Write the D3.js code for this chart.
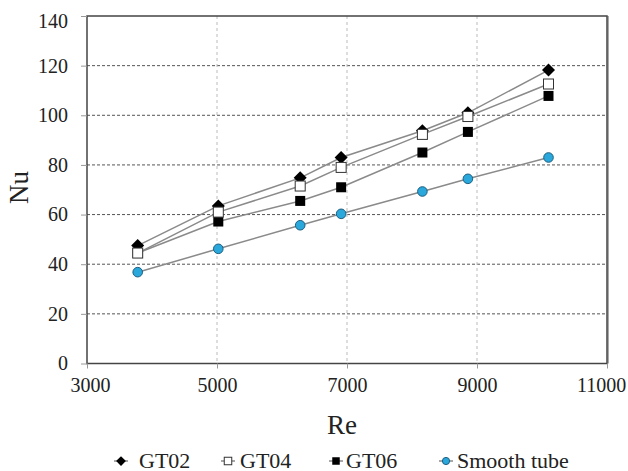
<!DOCTYPE html>
<html><head><meta charset="utf-8">
<script src="https://cdn.jsdelivr.net/npm/d3@7"></script>
<style>body{margin:0;background:#fff}svg{display:block}</style>
</head><body><svg id="c" width="628" height="471"></svg>
<script>
const re = [3780, 5020, 6280, 6910, 8160, 8860, 10100];
const gt02 = [47.5, 63.5, 74.8, 83.0, 93.8, 101.0, 118.2];
const gt04 = [44.5, 61.0, 71.5, 79.0, 92.3, 99.5, 112.6];
const gt06 = [44.5, 57.2, 65.5, 71.0, 85.0, 93.3, 107.8];
const smooth = [36.8, 46.2, 55.7, 60.3, 69.3, 74.4, 83.0];
const xTicks = [3000, 5000, 7000, 9000, 11000];
const yTicks = [0, 20, 40, 60, 80, 100, 120, 140];
const seriesNames = ["GT02", "GT04", "GT06", "Smooth tube"];

const FONT = "Liberation Serif";
const svg = d3.select("#c").attr("font-family", FONT);
const L = 87, R = 607, T = 16, B = 363.5;
const x = d3.scaleLinear().domain([3000, 11000]).range([L, R]);
const y = d3.scaleLinear().domain([0, 140]).range([B, T]);

// grid
svg.append("g").selectAll("line").data(yTicks.filter(d => d > 0 && d < 140)).join("line")
  .attr("x1", L).attr("x2", R).attr("y1", d => y(d)).attr("y2", d => y(d))
  .attr("stroke", "#555").attr("stroke-width", 1).attr("stroke-dasharray", "3,2");
svg.append("g").selectAll("line").data(xTicks.filter(d => d > 3000 && d < 11000)).join("line")
  .attr("y1", T).attr("y2", B).attr("x1", d => x(d)).attr("x2", d => x(d))
  .attr("stroke", "#bbb").attr("stroke-width", 1).attr("stroke-dasharray", "3,3");

// frame
svg.append("rect").attr("x", L).attr("y", T).attr("width", R - L).attr("height", B - T)
  .attr("fill", "none").attr("stroke", "#444").attr("stroke-width", 1.5);
svg.append("line").attr("x1", R + 1).attr("x2", R + 1).attr("y1", T).attr("y2", B)
  .attr("stroke", "#555").attr("stroke-width", 1);

// axes
const xa = svg.append("g").attr("transform", `translate(0,${B})`)
  .call(d3.axisBottom(x).tickValues(xTicks).tickSize(5).tickPadding(9).tickFormat(d3.format("d")));
const ya = svg.append("g").attr("transform", `translate(${L},0)`)
  .call(d3.axisLeft(y).tickValues(yTicks).tickSize(6).tickPadding(13));
[xa, ya].forEach(a => {
  a.attr("font-family", FONT).attr("font-size", 20);
  a.select(".domain").remove();
  a.selectAll(".tick line").attr("stroke", "#999");
  a.selectAll("text").attr("font-family", FONT).attr("font-size", 20).attr("fill", "#222");
});
ya.selectAll(".tick").filter(d => d === 140).select("text").attr("dy", "0.55em");
xa.selectAll(".tick").filter(d => d === 11000).select("text").attr("dx", -6);
xa.selectAll(".tick").filter(d => d === 3000).select("text").attr("dx", 3);

// series
const line = d3.line().x(d => x(d[0])).y(d => y(d[1]));
const data = {GT02: gt02, GT04: gt04, GT06: gt06, "Smooth tube": smooth};
const drawOrder = ["GT06", "GT02", "GT04", "Smooth tube"];

function marker(g, name, cx, cy, scale) {
  const s = scale || 1;
  if (name === "GT02") {
    const r = 6.5 * s;
    g.append("path").attr("d", `M${cx},${cy - r}L${cx + r},${cy}L${cx},${cy + r}L${cx - r},${cy}Z`).attr("fill", "#000");
  } else if (name === "GT04") {
    const h = 5 * s;
    g.append("rect").attr("x", cx - h).attr("y", cy - h).attr("width", 2 * h).attr("height", 2 * h)
      .attr("fill", "#fff").attr("stroke", "#333").attr("stroke-width", 1);
  } else if (name === "GT06") {
    const h = 5 * s;
    g.append("rect").attr("x", cx - h).attr("y", cy - h).attr("width", 2 * h).attr("height", 2 * h).attr("fill", "#000");
  } else {
    g.append("circle").attr("cx", cx).attr("cy", cy).attr("r", 4.8 * s)
      .attr("fill", "#2aa8dc").attr("stroke", "#1d5f80").attr("stroke-width", 1);
  }
}

drawOrder.forEach(name => {
  const pts = re.map((r, i) => [r, data[name][i]]);
  svg.append("path").datum(pts).attr("d", line).attr("fill", "none")
    .attr("stroke", "#8a8a8a").attr("stroke-width", 1.5);
});
drawOrder.forEach(name => {
  const g = svg.append("g");
  re.forEach((r, i) => marker(g, name, x(r), y(data[name][i])));
});

// titles
svg.append("text").attr("x", 342).attr("y", 433.5).attr("text-anchor", "middle")
  .attr("font-family", FONT).attr("font-size", 27).attr("fill", "#222").text("Re");
svg.append("text").attr("transform", "translate(28,187.5) rotate(-90)").attr("text-anchor", "middle")
  .attr("font-family", FONT).attr("font-size", 27).attr("fill", "#222").text("Nu");

// legend
const legendPos = [{m: 121, t: 139}, {m: 228, t: 240}, {m: 336, t: 346}, {m: 446, t: 457}];
seriesNames.forEach((name, i) => {
  const g = svg.append("g");
  const p = legendPos[i];
  g.append("line").attr("x1", p.m - 7).attr("x2", p.m + 7).attr("y1", 461).attr("y2", 461)
    .attr("stroke", "#8a8a8a").attr("stroke-width", 1.5);
  marker(g, name, p.m, 461, 0.75);
  g.append("text").attr("x", p.t).attr("y", 467.5).attr("font-family", FONT).attr("font-size", 22)
    .attr("fill", "#222").text(name);
});
</script></body></html>
